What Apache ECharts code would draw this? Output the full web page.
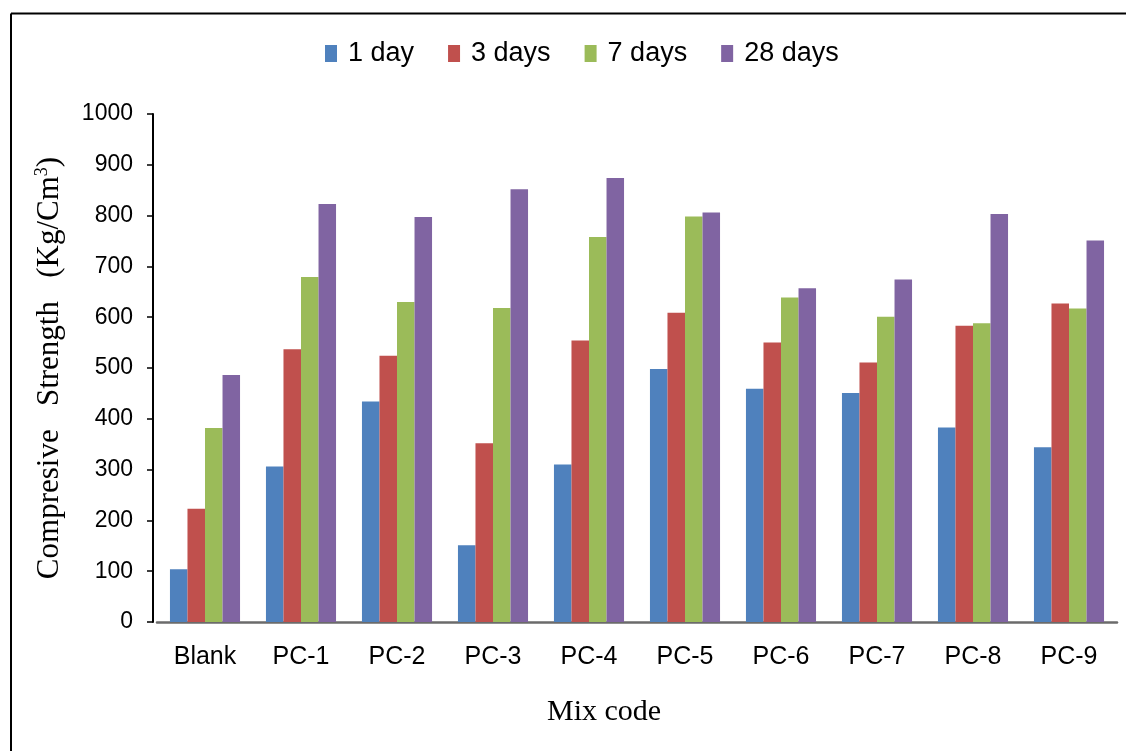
<!DOCTYPE html>
<html>
<head>
<meta charset="utf-8">
<script src="https://cdn.jsdelivr.net/npm/echarts@6/dist/echarts.min.js"></script>
<style>
html,body{margin:0;padding:0;background:#fff;}
#chart{width:1126px;height:751px;}
</style>
</head>
<body>
<div id="chart"></div>
<script>
var categories = ['Blank', 'PC-1', 'PC-2', 'PC-3', 'PC-4', 'PC-5', 'PC-6', 'PC-7', 'PC-8', 'PC-9'];
var day1 = [104, 306, 434, 151, 310, 498, 459, 451, 383, 344];
var day3 = [223, 537, 524, 352, 554, 609, 550, 511, 583, 627];
var day7 = [382, 679, 630, 618, 758, 798, 639, 601, 588, 617];
var day28 = [486, 823, 797, 852, 874, 806, 657, 674, 803, 751];
var seriesNames = ['1 day', '3 days', '7 days', '28 days'];
var yTicks = [0, 100, 200, 300, 400, 500, 600, 700, 800, 900, 1000];

var colors = ['#4F81BD', '#C0504D', '#9BBB59', '#8064A2'];
var sans = '"Liberation Sans", Arial, sans-serif';
var serif = '"Liberation Serif", "Times New Roman", serif';

var chart = echarts.init(document.getElementById('chart'), null, {renderer: 'canvas'});
var allData = [day1, day3, day7, day28];
var series = seriesNames.map(function (n, i) {
  return {
    name: n,
    type: 'bar',
    data: allData[i],
    barGap: '0%',
    barCategoryGap: '27%',
    itemStyle: {color: colors[i]}
  };
});

chart.setOption({
  animation: false,
  backgroundColor: '#ffffff',
  color: colors,
  legend: {
    data: seriesNames,
    top: 35,
    left: 320,
    itemWidth: 12,
    itemHeight: 17,
    itemGap: 34,
    icon: 'rect',
    textStyle: {fontFamily: sans, fontSize: 27, color: '#000', padding: [0, 0, 0, 6]}
  },
  grid: {left: 157, right: 9, top: 114, bottom: 129, containLabel: false},
  xAxis: {
    type: 'category',
    data: categories,
    axisLine: {show: true, lineStyle: {color: '#6b6b6b', width: 2.5}},
    axisTick: {show: false},
    axisLabel: {fontFamily: sans, fontSize: 25, color: '#000', margin: 23}
  },
  yAxis: {
    type: 'value',
    min: yTicks[0],
    max: yTicks[yTicks.length - 1],
    interval: 100,
    offset: 4,
    name: '{a|Compresive   Strength   (Kg/Cm}{s|3}{a|)}',
    nameLocation: 'middle',
    nameGap: 86,
    nameRotate: 90,
    nameTextStyle: {
      fontFamily: serif, color: '#000',
      rich: {
        a: {fontFamily: serif, fontSize: 31, color: '#000', lineHeight: 34},
        s: {fontFamily: serif, fontSize: 18, color: '#000', verticalAlign: 'top', lineHeight: 34}
      }
    },
    axisLine: {show: true, lineStyle: {color: '#000', width: 2}},
    axisTick: {show: true, inside: false, length: 6, lineStyle: {color: '#000', width: 1.5}},
    axisLabel: {fontFamily: sans, fontSize: 23, color: '#000', margin: 20, formatter: function (v) { return String(v); }},
    splitLine: {show: false}
  },
  graphic: [
    {type: 'line', shape: {x1: 11, y1: 13.5, x2: 1126, y2: 13.5}, style: {stroke: '#000', lineWidth: 2}},
    {type: 'line', shape: {x1: 11, y1: 13.5, x2: 11, y2: 751}, style: {stroke: '#000', lineWidth: 2}},
    {type: 'text', left: 604 - 57, top: 697, style: {text: 'Mix code', font: '30px ' + serif, fill: '#000'}}
  ],
  series: series
});
</script>
</body>
</html>
